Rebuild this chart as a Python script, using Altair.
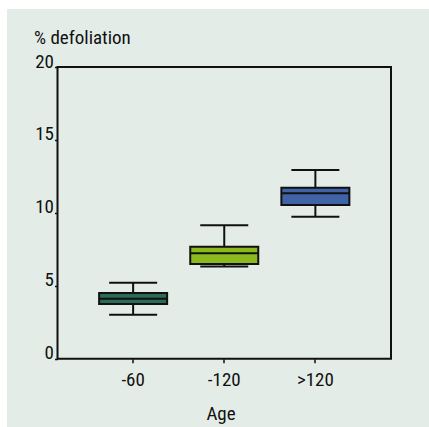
import altair as alt
import pandas as pd

# Defoliation by stand age class: five-number summaries per class
ages = ["-60", "-120", ">120"]
whisker_low = [3.02, 6.33, 9.74]
q1 = [3.75, 6.49, 10.54]
median = [4.11, 7.23, 11.34]
q3 = [4.50, 7.68, 11.72]
whisker_high = [5.21, 9.15, 12.94]
fills = ["#2b6b58", "#8bba1e", "#4063a8"]

y_ticks = [0, 5, 10, 15, 20]

df = pd.DataFrame({
    "age": ages,
    "lo": whisker_low,
    "q1": q1,
    "med": median,
    "q3": q3,
    "hi": whisker_high,
})

FONT = ("'Roboto Condensed', 'Noto Sans Condensed', 'Open Sans Condensed', "
        "'DejaVu Sans Condensed', 'Liberation Sans Narrow', 'Liberation Sans', sans-serif")
PANEL = "#e3ece7"
INK = "#111111"
W, H = 333.5, 291.7

x_enc = alt.X(
    "age:N",
    sort=ages,
    title="Age",
    scale=alt.Scale(paddingInner=0, paddingOuter=0.33),
    axis=alt.Axis(
        labelAngle=0,
        labelFontSize=19,
        labelPadding=8,
        labelColor=INK,
        tickSize=4,
        tickWidth=1.5,
        tickColor=INK,
        domain=False,
        titleFontSize=19,
        titleFontWeight="normal",
        titleColor=INK,
        titleBaseline="alphabetic",
        titleY=61,
        titleX=163,
    ),
)
y_scale = alt.Scale(domain=[0, 20], nice=False, zero=True)
y_axis = alt.Axis(
    values=y_ticks,
    title="% defoliation",
    titleAngle=0,
    titleAlign="left",
    titleBaseline="alphabetic",
    titleX=-24,
    titleY=-24,
    titleFontSize=19,
    titleFontWeight="normal",
    titleColor=INK,
    labelFontSize=19,
    labelColor=INK,
    labelBaseline="alphabetic",
    labelAlign="right",
    labelPadding=1,
    tickSize=3,
    tickWidth=1.5,
    tickColor=INK,
    domain=False,
    grid=False,
)

base = alt.Chart(df)
one_row = alt.datum.age == ages[0]

# thin white margins along the left and top edges of the figure
margin_left = base.mark_rect(color="white", clip=False).encode(
    x=alt.value(-60), x2=alt.value(-50.5), y=alt.value(-70), y2=alt.value(370)
).transform_filter(one_row)
margin_top = base.mark_rect(color="white", clip=False).encode(
    x=alt.value(-60), x2=alt.value(380), y=alt.value(-70), y2=alt.value(-58)
).transform_filter(one_row)

# black frame round the plotting area
frame = base.mark_rect(fill=None, stroke=INK, strokeWidth=2, clip=False).encode(
    x=alt.value(0), x2=alt.value(W), y=alt.value(0), y2=alt.value(H)
).transform_filter(one_row)

whisk_low = base.mark_rule(color=INK, strokeWidth=2).encode(
    x=x_enc, y=alt.Y("lo:Q", scale=y_scale, axis=y_axis), y2="q1:Q"
)
whisk_high = base.mark_rule(color=INK, strokeWidth=2).encode(
    x=alt.X("age:N", sort=ages), y="q3:Q", y2="hi:Q"
)
cap_low = base.mark_tick(color=INK, size=48, thickness=2, opacity=1).encode(
    x=alt.X("age:N", sort=ages), y="lo:Q"
)
cap_high = base.mark_tick(color=INK, size=48, thickness=2, opacity=1).encode(
    x=alt.X("age:N", sort=ages), y="hi:Q"
)
box = base.mark_bar(size=68, stroke=INK, strokeWidth=2, opacity=1).encode(
    x=alt.X("age:N", sort=ages),
    y="q1:Q",
    y2="q3:Q",
    color=alt.Color("age:N", sort=ages, scale=alt.Scale(domain=ages, range=fills), legend=None),
)
med = base.mark_tick(color=INK, size=68, thickness=2, opacity=1).encode(
    x=alt.X("age:N", sort=ages), y="med:Q"
)

chart = (
    alt.layer(margin_left, margin_top, frame, whisk_low, whisk_high, cap_low, cap_high, box, med)
    .properties(
        width=W,
        height=H,
        autosize=alt.AutoSizeParams(type="none"),
        padding={"left": 57.5, "top": 67, "right": 38, "bottom": 68.3},
        background=PANEL,
    )
    .configure_view(strokeWidth=0)
    .configure(font=FONT)
)

chart.save("out.html", embed_options={"renderer": "svg", "actions": False})
